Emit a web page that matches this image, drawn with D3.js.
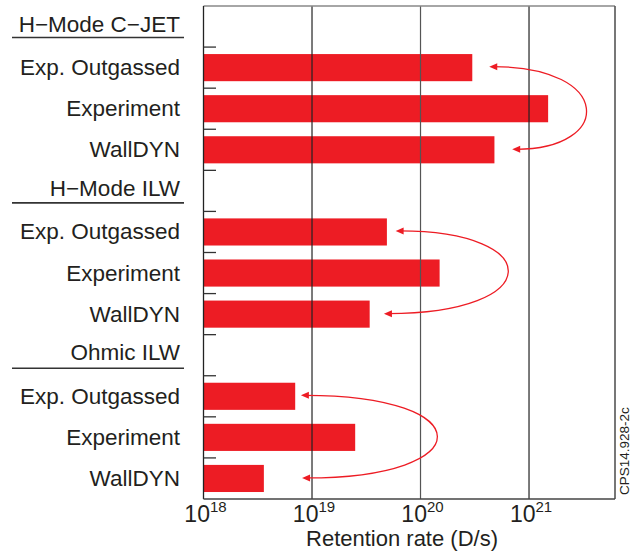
<!DOCTYPE html>
<html>
<head>
<meta charset="utf-8">
<script src="https://cdn.jsdelivr.net/npm/d3@7"></script>
<style>
  body { margin: 0; background: #fff; }
  svg { display: block; font-family: "Liberation Sans", Arial, Helvetica, sans-serif; }
</style>
</head>
<body>
<svg id="chart" width="634" height="554"></svg>
<script>
// groups and the three bars in each
const groups = ["H\u2212Mode C\u2212JET", "H\u2212Mode ILW", "Ohmic ILW"];
const categories = ["Exp. Outgassed", "Experiment", "WallDYN"];

// retention rate (D/s), one array per group, in the order of categories
const cjetValues = [3.0e20, 1.5e21, 4.8e20];
const ilwValues = [4.9e19, 1.5e20, 3.4e19];
const ohmicValues = [7.0e18, 2.5e19, 3.6e18];
const seriesValues = [cjetValues, ilwValues, ohmicValues];

// arrows: [start tip, end tip, furthest point to the right]
const arrowCjet = [4.3e20, 7.0e20, 3.3e21];
const arrowIlw = [5.9e19, 4.6e19, 6.3e20];
const arrowOhmic = [7.9e18, 8.1e18, 1.4e20];
const arrows = [arrowCjet, arrowIlw, arrowOhmic];

const tickValues = [1e18, 1e19, 1e20, 1e21];
const tickExponents = ["18", "19", "20", "21"];

function draw() {
    var svg = d3.select("#chart");
    var red = "#ed1c24", ink = "#231f20";
    var pLeft = 203.5, pRight = 615, pTop = 6, pBottom = 499;

    // one row per header + one per bar
    var rows = [];
    groups.forEach(function(g, gi) {
        rows.push({id: "h" + gi, header: true, label: g});
        categories.forEach(function(c, ci) {
            rows.push({id: gi + "-" + ci, header: false, label: c, group: gi, cat: ci, value: seriesValues[gi][ci]});
        });
    });

    var x = d3.scaleLog().domain([1e18, 6.2e21]).range([pLeft, pRight]);
    var y = d3.scaleBand().domain(rows.map(function(d) { return d.id; })).range([pTop, pBottom]).paddingInner(0.34).paddingOuter(0.17);
    var step = y.step();
    function center(id) { return y(id) + y.bandwidth() / 2; }

    // bars
    svg.selectAll(".bar").data(rows.filter(function(d) { return !d.header; })).enter().append("rect")
        .attr("class", "bar")
        .attr("x", x(1e18))
        .attr("y", function(d) { return y(d.id); })
        .attr("width", function(d) { return x(d.value) - x(1e18); })
        .attr("height", y.bandwidth())
        .attr("fill", red);

    // grid lines at the decades
    svg.selectAll(".grid").data(tickValues.slice(1)).enter().append("line")
        .attr("x1", function(d) { return x(d); }).attr("x2", function(d) { return x(d); })
        .attr("y1", pTop).attr("y2", pBottom)
        .attr("stroke", function(d, i) { return i == 1 ? "#555" : "#222"; }).attr("stroke-width", 1.2);

    // frame
    svg.append("line").attr("x1", pLeft).attr("x2", pRight).attr("y1", pTop).attr("y2", pTop).attr("stroke", "#888").attr("stroke-width", 1.6);
    svg.append("line").attr("x1", pRight).attr("x2", pRight).attr("y1", pTop).attr("y2", pBottom).attr("stroke", "#555").attr("stroke-width", 1.6);
    svg.append("line").attr("x1", pLeft).attr("x2", pLeft).attr("y1", pTop).attr("y2", pBottom).attr("stroke", "#222").attr("stroke-width", 1.3);
    svg.append("line").attr("x1", pLeft).attr("x2", pRight).attr("y1", pBottom).attr("y2", pBottom).attr("stroke", "#444").attr("stroke-width", 1.5);

    // small ticks between rows
    svg.selectAll(".rowtick").data(rows.slice(1)).enter().append("line")
        .attr("x1", pLeft).attr("x2", pLeft + 12.5)
        .attr("y1", function(d) { return y(d.id) - y.paddingInner() * step / 2; })
        .attr("y2", function(d) { return y(d.id) - y.paddingInner() * step / 2; })
        .attr("stroke", "#333").attr("stroke-width", 1.3);

    // row labels
    svg.selectAll(".label").data(rows).enter().append("text")
        .attr("x", 180)
        .attr("y", function(d) { return center(d.id) + (d.header ? 5 : 7.5); })
        .attr("text-anchor", "end")
        .attr("font-size", "22.5px")
        .attr("fill", ink)
        .text(function(d) { return d.label; });

    // header underlines
    svg.selectAll(".underline").data(rows.filter(function(d) { return d.header; })).enter().append("line")
        .attr("x1", 12).attr("x2", 184)
        .attr("y1", function(d, i) { return center(d.id) + 11 + i; })
        .attr("y2", function(d, i) { return center(d.id) + 11 + i; })
        .attr("stroke", "#333").attr("stroke-width", 1.6);

    // x tick labels 10^n
    var tl = svg.selectAll(".xlab").data(tickValues).enter().append("text")
        .attr("x", function(d) { return x(d) + 2; })
        .attr("y", 522)
        .attr("text-anchor", "middle")
        .attr("fill", ink);
    tl.append("tspan").attr("font-size", "23px").text("10");
    tl.append("tspan").attr("font-size", "15px").attr("dy", -10).text(function(d, i) { return tickExponents[i]; });

    svg.append("text").attr("x", 402).attr("y", 546).attr("text-anchor", "middle").attr("font-size", "22px").attr("fill", ink).text("Retention rate (D/s)");

    svg.append("text").attr("transform", "translate(629,495) rotate(-90)").attr("font-size", "13.5px").attr("fill", ink).text("CPS14.928-2c");

    // curved arrows from outgassed to walldyn
    arrows.forEach(function(a, gi) {
        var x0 = x(a[0]), x1 = x(a[1]), xr = x(a[2]);
        var y0 = center(gi + "-0") - 1, y1 = center(gi + "-2") - 0.5;
        var c = (xr - 0.125 * (x0 + x1)) / 0.75;
        var p = d3.path();
        p.moveTo(x0 + 4, y0);
        p.bezierCurveTo(c, y0, c, y1, x1 + 4, y1);
        svg.append("path").attr("d", p.toString()).attr("fill", "none").attr("stroke", red).attr("stroke-width", 1.3);
        [[x0, y0], [x1, y1]].forEach(function(t) {
            svg.append("path")
                .attr("d", "M" + t[0] + "," + t[1] + "L" + (t[0] + 8) + "," + (t[1] - 3.5) + "L" + (t[0] + 8) + "," + (t[1] + 3.5) + "Z")
                .attr("fill", red);
        });
    });
}

draw();
</script>
</body>
</html>
